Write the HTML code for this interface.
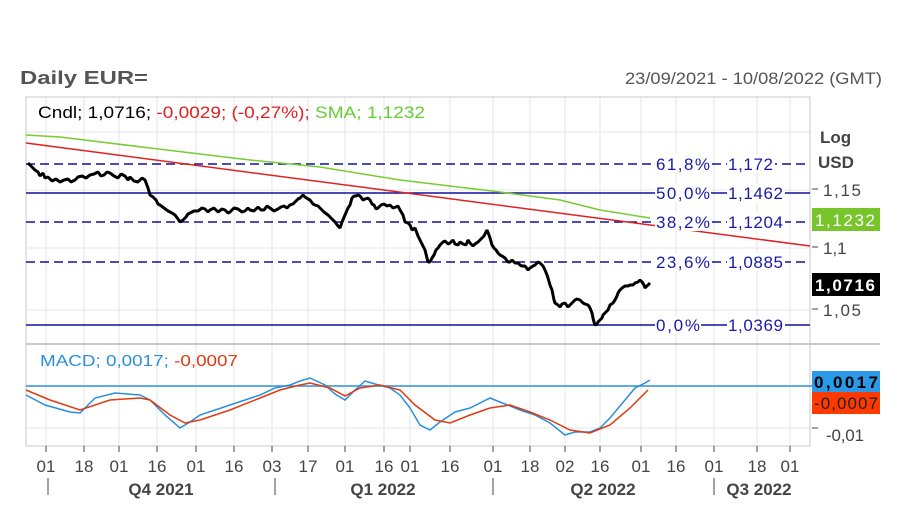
<!DOCTYPE html>
<html><head><meta charset="utf-8"><style>
body{margin:0;background:#fff;width:900px;height:506px;overflow:hidden}
svg{display:block;font-family:"Liberation Sans",sans-serif}
</style></head><body>
<svg width="900" height="506" viewBox="0 0 900 506">
<text x="20" y="84" font-size="18" font-weight="bold" fill="#555" textLength="128" lengthAdjust="spacingAndGlyphs">Daily EUR=</text>
<text x="882" y="84" font-size="17" fill="#555" text-anchor="end" textLength="257" lengthAdjust="spacingAndGlyphs">23/09/2021 - 10/08/2022 (GMT)</text>
<g stroke="#e6e6e6" stroke-width="1">
<line x1="46" y1="97" x2="46" y2="446"/><line x1="84" y1="97" x2="84" y2="446"/><line x1="119" y1="97" x2="119" y2="446"/><line x1="157" y1="97" x2="157" y2="446"/><line x1="196" y1="97" x2="196" y2="446"/><line x1="234" y1="97" x2="234" y2="446"/><line x1="272" y1="97" x2="272" y2="446"/><line x1="308" y1="97" x2="308" y2="446"/><line x1="345" y1="97" x2="345" y2="446"/><line x1="384" y1="97" x2="384" y2="446"/><line x1="410" y1="97" x2="410" y2="446"/><line x1="450" y1="97" x2="450" y2="446"/><line x1="493" y1="97" x2="493" y2="446"/><line x1="530" y1="97" x2="530" y2="446"/><line x1="565" y1="97" x2="565" y2="446"/><line x1="600" y1="97" x2="600" y2="446"/><line x1="641" y1="97" x2="641" y2="446"/><line x1="676" y1="97" x2="676" y2="446"/><line x1="714" y1="97" x2="714" y2="446"/><line x1="757" y1="97" x2="757" y2="446"/><line x1="790" y1="97" x2="790" y2="446"/>
<line x1="26" y1="132" x2="810" y2="132"/><line x1="26" y1="190" x2="810" y2="190"/><line x1="26" y1="248" x2="810" y2="248"/><line x1="26" y1="310" x2="810" y2="310"/><line x1="26" y1="428" x2="810" y2="428"/>
</g>
<rect x="26" y="97" width="784" height="349" fill="none" stroke="#c8c8c8"/>
<line x1="26" y1="344" x2="880" y2="344" stroke="#c8c8c8" stroke-width="2"/>
<text x="38" y="118" font-size="17" fill="#000" textLength="387" lengthAdjust="spacingAndGlyphs">Cndl; 1,0716; <tspan fill="#d22">-0,0029; (-0,27%);</tspan> <tspan fill="#6c3">SMA; 1,1232</tspan></text>
<g stroke="#1010a0" stroke-width="1.5" fill="none">
<line x1="26" y1="164" x2="810" y2="164" stroke-dasharray="9,5"/>
<line x1="26" y1="193" x2="810" y2="193"/>
<line x1="26" y1="222" x2="810" y2="222" stroke-dasharray="9,5"/>
<line x1="26" y1="262" x2="810" y2="262" stroke-dasharray="9,5"/>
<line x1="26" y1="325" x2="810" y2="325"/>
</g>
<polyline fill="none" stroke="#7c3" stroke-width="1.5" points="26,135 60,137 150,148 250,160 320,167 400,180 500,192 560,200 600,210 650,218"/>
<line x1="26" y1="143" x2="810" y2="246" stroke="#d22" stroke-width="1.5"/>
<g fill="#fff">
<rect x="655" y="155" width="56" height="18"/><rect x="727" y="155" width="48" height="18"/>
<rect x="655" y="184" width="56" height="18"/><rect x="727" y="184" width="58" height="18"/>
<rect x="655" y="213" width="56" height="18"/><rect x="727" y="213" width="58" height="18"/>
<rect x="655" y="253" width="56" height="18"/><rect x="727" y="253" width="58" height="18"/>
<rect x="655" y="316" width="46" height="18"/><rect x="727" y="316" width="58" height="18"/>
</g>
<g font-size="17" fill="#1a1aaa">
<text x="656" y="170" textLength="54">61,8%</text><text x="728" y="170" textLength="45">1,172</text>
<text x="656" y="199" textLength="54">50,0%</text><text x="728" y="199" textLength="55">1,1462</text>
<text x="656" y="228" textLength="54">38,2%</text><text x="728" y="228" textLength="55">1,1204</text>
<text x="656" y="268" textLength="54">23,6%</text><text x="728" y="268" textLength="55">1,0885</text>
<text x="656" y="331" textLength="44">0,0%</text><text x="728" y="331" textLength="55">1,0369</text>
</g>
<polyline fill="none" stroke="#000" stroke-width="3" stroke-linejoin="bevel" points="28,163 31,166 35,170 38,172 40,176 43,173 45,178 48,177 52,181 56,179 60,182 64,180 68,179 71,182 75,180 78,177 82,176 86,178 90,175 94,174 98,172 101,176 104,175 107,172 110,173 114,176 118,178 121,174 125,176 128,180 130,177 134,181 138,182 142,178 145,180 148,188 150,195 153,197 156,200 158,204 160,205 164,208 168,211 172,213 175,215 178,219 180,222 183,220 186,217 188,214 190,213 194,211 198,211 202,208 205,209 208,212 210,210 214,208 218,212 222,209 225,210 228,213 230,212 234,208 238,209 242,212 245,211 248,208 250,210 254,211 258,207 261,210 264,210 267,206 270,208 274,211 278,209 281,207 284,206 287,208 290,205 293,204 295,202 298,199 300,198 303,195 305,197 308,199 310,200 313,204 315,205 318,206 320,208 324,212 328,215 332,219 335,222 338,226 340,228 342,222 345,215 348,208 350,205 352,198 354,196 356,196 358,195 360,196 363,200 365,199 368,198 370,200 372,204 374,205 376,209 378,208 381,205 384,204 387,206 390,205 393,208 396,207 398,206 400,210 403,215 405,222 408,223 410,225 412,230 415,228 418,236 420,240 423,246 425,250 427,258 428,262 430,262 432,258 434,255 436,250 438,248 440,245 443,242 445,241 448,244 450,243 453,240 455,244 458,245 460,242 463,244 466,245 468,240 470,243 473,246 475,244 478,242 480,240 482,238 484,236 486,232 487,230 489,235 490,238 492,245 494,248 496,250 498,253 500,255 502,256 505,258 508,262 510,262 512,260 515,263 518,263 520,265 522,266 525,266 528,270 530,268 533,266 535,265 538,262 540,263 542,265 543,266 545,270 547,275 548,278 550,285 552,290 553,295 554,300 555,303 558,305 560,307 562,304 565,303 568,307 570,305 573,302 575,300 577,299 580,300 583,303 585,304 588,305 590,308 592,313 593,318 594,322 595,325 597,324 598,322 600,320 602,318 603,315 605,313 608,310 610,305 613,303 615,300 617,296 618,293 620,290 622,288 625,286 628,286 630,285 633,285 635,283 638,282 640,280 642,282 644,285 645,288 647,286 648,285 650,283"/>
<g font-size="17" fill="#444">
<text x="820" y="143" font-weight="bold">Log</text><text x="818" y="168" font-weight="bold">USD</text>
<text x="823" y="196" textLength="38">1,15</text><text x="823" y="254">1,1</text><text x="823" y="316" textLength="38">1,05</text>
<text x="826" y="441" textLength="38">-0,01</text>
</g>
<g stroke="#444"><line x1="812" y1="189" x2="818" y2="189"/><line x1="812" y1="247" x2="818" y2="247"/><line x1="812" y1="309" x2="818" y2="309"/><line x1="812" y1="428" x2="818" y2="428"/></g>
<rect x="812" y="208" width="68" height="23" fill="#77c52a"/>
<text x="815" y="226" font-size="17" fill="#fff" textLength="60">1,1232</text>
<rect x="812" y="273" width="68" height="23" fill="#000"/>
<text x="815" y="291" font-size="17" font-weight="bold" fill="#fff" textLength="60">1,0716</text>
<text x="40" y="366" font-size="16" fill="#2a8fdc" textLength="198" lengthAdjust="spacingAndGlyphs">MACD; 0,0017; <tspan fill="#e03a10">-0,0007</tspan></text>
<line x1="26" y1="386" x2="812" y2="386" stroke="#2a8fdc" stroke-width="1.5"/>
<polyline fill="none" stroke="#2a8fdc" stroke-width="1.5" points="26,395 45,405 70,412 80,413 95,398 115,393 140,395 150,400 165,415 180,428 190,422 200,415 230,405 260,395 275,388 290,385 300,381 310,378 325,385 335,394 345,400 355,390 365,381 375,384 390,388 400,395 410,408 420,425 430,430 440,422 455,412 470,408 490,398 500,402 520,410 535,415 550,423 565,435 575,432 590,432 600,428 610,418 625,400 635,388 645,383 650,380"/>
<polyline fill="none" stroke="#e03a10" stroke-width="1.5" points="26,390 50,400 80,410 110,400 140,398 150,400 170,415 185,423 200,420 230,410 260,398 280,390 300,385 310,383 330,388 345,396 360,388 380,385 400,390 415,405 435,420 450,423 470,415 490,408 510,405 530,412 550,420 570,430 590,433 610,425 630,408 648,390"/>
<rect x="812" y="371" width="68" height="21" fill="#2a9ae8"/>
<text x="814" y="388" font-size="17" font-weight="bold" fill="#000" textLength="64">0,0017</text>
<rect x="812" y="392" width="68" height="22" fill="#ff3a00"/>
<text x="814" y="409" font-size="17" fill="#222" textLength="64">-0,0007</text>
<g stroke="#444"><line x1="46" y1="446" x2="46" y2="452"/><line x1="84" y1="446" x2="84" y2="452"/><line x1="119" y1="446" x2="119" y2="452"/><line x1="157" y1="446" x2="157" y2="452"/><line x1="196" y1="446" x2="196" y2="452"/><line x1="234" y1="446" x2="234" y2="452"/><line x1="272" y1="446" x2="272" y2="452"/><line x1="308" y1="446" x2="308" y2="452"/><line x1="345" y1="446" x2="345" y2="452"/><line x1="384" y1="446" x2="384" y2="452"/><line x1="410" y1="446" x2="410" y2="452"/><line x1="450" y1="446" x2="450" y2="452"/><line x1="493" y1="446" x2="493" y2="452"/><line x1="530" y1="446" x2="530" y2="452"/><line x1="565" y1="446" x2="565" y2="452"/><line x1="600" y1="446" x2="600" y2="452"/><line x1="641" y1="446" x2="641" y2="452"/><line x1="676" y1="446" x2="676" y2="452"/><line x1="714" y1="446" x2="714" y2="452"/><line x1="757" y1="446" x2="757" y2="452"/><line x1="790" y1="446" x2="790" y2="452"/>
<line x1="48" y1="478" x2="48" y2="495"/><line x1="275" y1="478" x2="275" y2="495"/><line x1="493" y1="478" x2="493" y2="495"/><line x1="714" y1="478" x2="714" y2="495"/></g>
<g font-size="17" fill="#444" text-anchor="middle">
<text x="46" y="472">01</text><text x="84" y="472">18</text><text x="119" y="472">01</text><text x="157" y="472">16</text><text x="196" y="472">01</text><text x="234" y="472">16</text><text x="272" y="472">03</text><text x="308" y="472">17</text><text x="345" y="472">01</text><text x="384" y="472">16</text><text x="410" y="472">01</text><text x="450" y="472">16</text><text x="493" y="472">01</text><text x="530" y="472">18</text><text x="565" y="472">02</text><text x="600" y="472">16</text><text x="641" y="472">01</text><text x="676" y="472">16</text><text x="714" y="472">01</text><text x="757" y="472">18</text><text x="790" y="472">01</text>
</g>
<g font-size="17" font-weight="bold" fill="#444" text-anchor="middle">
<text x="161" y="495">Q4 2021</text><text x="383" y="495">Q1 2022</text><text x="603" y="495">Q2 2022</text><text x="759" y="495">Q3 2022</text>
</g>
</svg>
</body></html>
